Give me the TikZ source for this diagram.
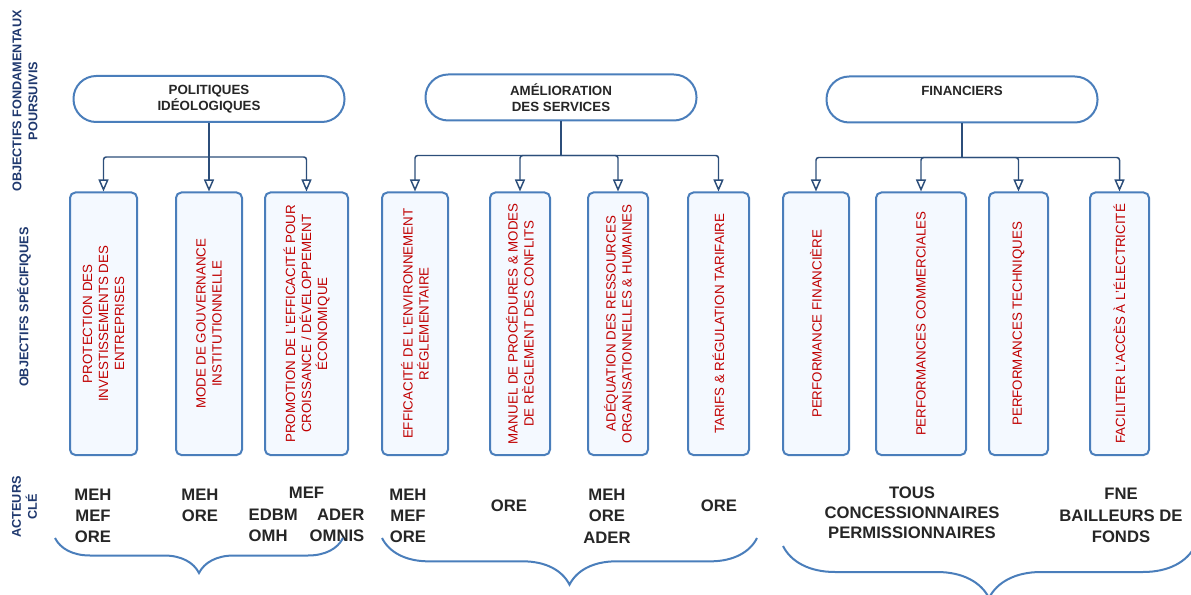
\documentclass[tikz,border=0pt]{standalone}
\usepackage{fontspec}
\setmainfont{Liberation Sans}
\usepackage{tikz}
\usetikzlibrary{arrows.meta,positioning,decorations.pathreplacing}
\definecolor{boxblue}{RGB}{74,126,187}
\definecolor{specfill}{RGB}{244,249,255}
\definecolor{linkblue}{RGB}{44,78,122}
\definecolor{specred}{RGB}{192,0,0}
\definecolor{rownavy}{RGB}{31,56,110}
\definecolor{inkgray}{RGB}{38,38,38}
\def\px{0.75pt}
\tikzset{%
	goal/.style     = {draw=boxblue, line width=1.5pt, fill=white, rounded corners=17pt, minimum width=271*\px, minimum height=46*\px, text=inkgray, font=\bfseries\fontsize{10}{12.5}\selectfont, align=center},
	spec/.style     = {draw=boxblue, line width=1.5pt, fill=specfill, rounded corners=4pt, rotate=90, minimum width=262.5*\px, inner sep=2pt, text=specred, font=\fontsize{10}{12}\selectfont, align=center},
	actor/.style    = {text=inkgray, font=\bfseries\fontsize{12.5}{16}\selectfont, align=center, inner sep=0pt},
	rowlabel/.style = {rotate=90, text=rownavy, font=\bfseries\fontsize{9.5}{12}\selectfont, align=center, inner sep=0pt},
	waypoint/.style = {coordinate},
	link/.style     = {draw=linkblue, line width=1.1pt, rounded corners=2pt},
	arrow/.style    = {link, -{Triangle[open, width=7.5pt, length=9pt]}},
	actbrace/.style = {draw=boxblue, line width=1.5pt, decorate},
}
\begin{document}
\begin{tikzpicture}[x=0.75pt,y=-0.75pt,node distance=43.5pt]
	\useasboundingbox (0,0) rectangle (1191,595);
	
	% row titles
	\node [rowlabel] (lfond) at (25,101) {OBJECTIFS FONDAMENTAUX\\POURSUIVIS};
	\node [rowlabel] (lspec) at (24,307) {OBJECTIFS SPÉCIFIQUES};
	\node [rowlabel] (lact) at (24.5,507) {ACTEURS\\CLÉ};
	
	% fundamental objectives
	\node [goal] (pol) at (209,99) {POLITIQUES\\IDÉOLOGIQUES};
	\node [goal] (ame) at (561,97.5) {AMÉLIORATION\\DES SERVICES};
	\node [goal] (fin) at (962,99.5) {FINANCIERS\\\mbox{}};
	\node [waypoint] (polj) [below of=pol] {};
	\node [waypoint] (amej) [below of=ame] {};
	\node [waypoint] (finj) [below of=fin] {};
	
	% specific objectives
	\node [spec, minimum height=67*\px] (s1) at (103.5,323.75) {PROTECTION DES\\INVESTISSEMENTS DES\\ENTREPRISES};
	\node [spec, minimum height=66*\px] (s2) at (209,323.75) {MODE DE GOUVERNANCE\\INSTITUTIONNELLE};
	\node [spec, minimum height=83*\px] (s3) at (306.5,323.75) {PROMOTION DE L'EFFICACITÉ POUR\\CROISSANCE / DÉVELOPPEMENT\\ÉCONOMIQUE};
	\node [spec, minimum height=66*\px] (s4) at (415,323.75) {EFFICACITÉ DE L'ENVIRONNEMENT\\RÉGLEMENTAIRE};
	\node [spec, minimum height=60*\px] (s5) at (520,323.75) {MANUEL DE PROCÉDURES \& MODES\\DE RÈGLEMENT DES CONFLITS};
	\node [spec, minimum height=60*\px] (s6) at (618,323.75) {ADÉQUATION DES RESSOURCES\\ORGANISATIONNELLES \& HUMAINES};
	\node [spec, minimum height=61*\px] (s7) at (718.5,323.75) {TARIFS \& RÉGULATION TARIFAIRE};
	\node [spec, minimum height=66*\px] (s8) at (816,323.75) {PERFORMANCE FINANCIÈRE};
	\node [spec, minimum height=90*\px] (s9) at (921,323.75) {PERFORMANCES COMMERCIALES};
	\node [spec, minimum height=59*\px] (s10) at (1018.5,323.75) {PERFORMANCES TECHNIQUES};
	\node [spec, minimum height=59*\px] (s11) at (1119.5,323.75) {FACILITER L'ACCÈS À L'ÉLECTRICITÉ};
	
	% key actors
	\node [actor] (a1) at (93,516) {MEH\\MEF\\ORE};
	\node [actor] (a2) at (200,505.5) {MEH\\ORE};
	\node [actor] (a3) at (306.5,516) {\begin{tabular}{@{}l@{\hspace{9pt}}r@{}}\multicolumn{2}{c}{MEF}\\EDBM&ADER\\OMH&OMNIS\end{tabular}};
	\node [actor] (a4) at (408,516) {MEH\\MEF\\ORE};
	\node [actor] (a5) at (509,506) {ORE};
	\node [actor] (a6) at (607,516) {MEH\\ORE\\ADER};
	\node [actor] (a7) at (719,506) {ORE};
	\node [actor, font=\bfseries\fontsize{12.5}{15}\selectfont] (a8) at (912,513) {TOUS\\CONCESSIONNAIRES\\PERMISSIONNAIRES};
	\node [actor] (a9) at (1121,515.5) {FNE\\BAILLEURS DE\\FONDS};
	
	% connectors
	\draw [link] (pol) -- (polj);
	\foreach \s in {s1,s2,s3}
		\draw [arrow] (polj) -| (\s);
	\draw [link] (ame) -- (amej);
	\foreach \s in {s4,s5,s6,s7}
		\draw [arrow] (amej) -| (\s);
	\draw [link] (fin) -- (finj);
	\foreach \s in {s8,s9,s10,s11}
		\draw [arrow] (finj) -| (\s);
	
	% braces
	\draw [actbrace, decoration={brace, mirror, amplitude=26.25pt}] (55,538) -- (343,538);
	\draw [actbrace, decoration={brace, mirror, amplitude=35pt}] (382,538) -- (757,538);
	\draw [actbrace, decoration={brace, mirror, amplitude=39pt}] (783,546) -- (1195,546);
	
\end{tikzpicture}
\end{document}
